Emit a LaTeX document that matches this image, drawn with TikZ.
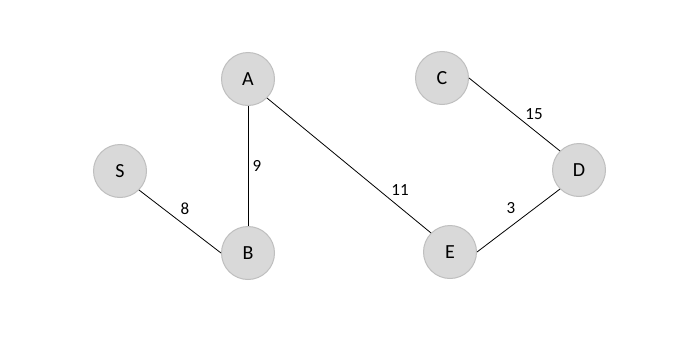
\documentclass[tikz,border=0pt]{standalone}
\usepackage{fontspec}
\setmainfont{Carlito}
\usetikzlibrary{positioning}
\definecolor{nodeFill}{RGB}{217,217,217}
\definecolor{nodeLine}{RGB}{191,191,191}

\begin{document}
\begin{tikzpicture}[x=1pt,y=-1pt,
          vert/.style={circle,draw=nodeLine,fill=nodeFill,
                       minimum size=53pt,inner sep=0pt,line width=1pt,
                       font=\fontsize{20}{22}\selectfont},
          wt/.style={font=\fontsize{17}{19}\selectfont,inner sep=1pt},
        ]
        \useasboundingbox (0,0) rectangle (700,356);
        % Vertices
        \node[vert] (A) at (248,79)  {A};
        \node[vert] (C) at (442,78)  {C};
        \node[vert] (S) at (120,171) {S};
        \node[vert] (D) at (579,170) {D};
        \node[vert] (B) at (248,253) {B};
        \node[vert] (E) at (450,252) {E};
        % Edges
        \foreach \a/\b in {S.south east/B.west,A.south/B.north,
                           A.south east/E.north west,C.east/D.north west,
                           E.east/D.south west}{
          \draw[black,line width=0.8pt] (\a)--(\b);
        }
        % Weights
        \node[wt] (w9)  at (257,166) {9};
        \node[wt] (w8)  at (185,209) {8};
        \node[wt] (w11) at (400,190) {11};
        \node[wt] (w15) at (534,114) {15};
        \node[wt] (w3)  at (511,208) {3};
      \end{tikzpicture}
\end{document}
